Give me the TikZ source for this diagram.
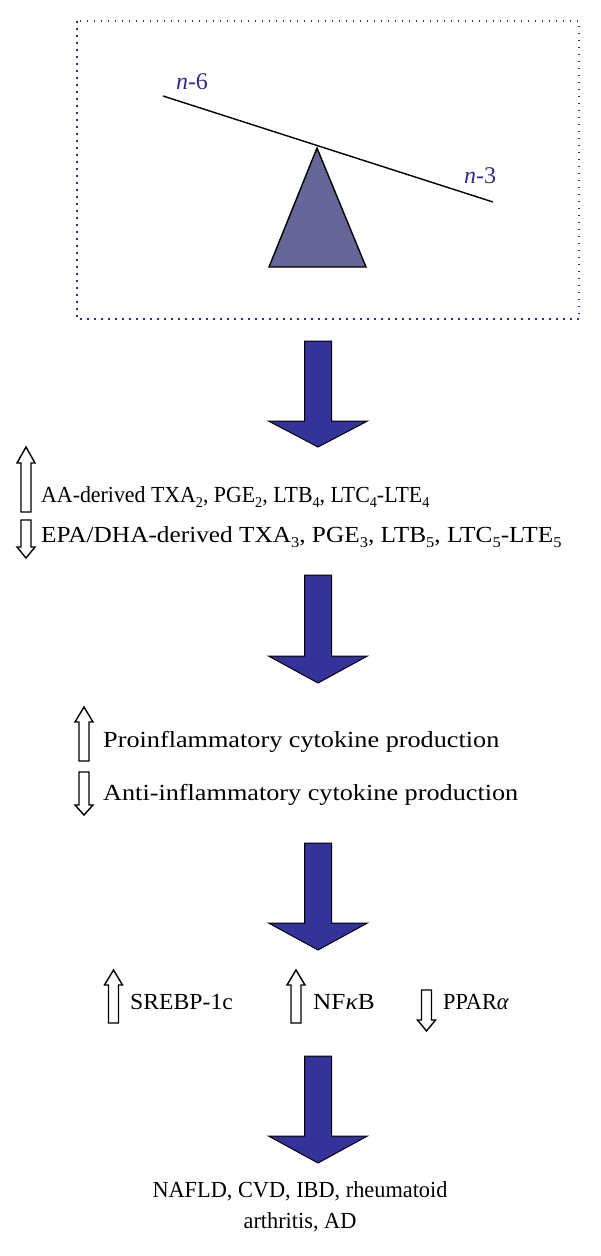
\documentclass[tikz,border=0pt]{standalone}
\usepackage{fontspec}
\usepackage{graphicx}
\setmainfont{Liberation Serif}
\definecolor{arrowblue}{HTML}{333399}
\definecolor{labelblue}{HTML}{2E2E8A}
\definecolor{triblue}{HTML}{666699}
\newcommand{\lowsub}[1]{\raisebox{-0.2em}{\fontsize{15}{15}\selectfont #1}}
\newcommand{\bigdown}[4]{% name, top, headbase, tip
  \draw[bigarrow] (304.5,#2) -- (331.5,#2) -- (331.5,#3) -- (367.5,#3) -- (318,#4) -- (268.5,#3) -- (304.5,#3) -- cycle;
  \coordinate (#1) at (318,#4);}
\newcommand{\hollowup}[5]{% name, cx, tip, headbase, bottom
  \draw[hollow] (#2,#3) -- ({#2+9},#4) -- ({#2+5},#4) -- ({#2+5},#5) -- ({#2-5},#5) -- ({#2-5},#4) -- ({#2-9},#4) -- cycle;
  \coordinate (#1) at (#2,#3);}
\newcommand{\hollowdown}[5]{% name, cx, top, headbase, tip
  \draw[hollow] ({#2-5},#3) -- ({#2+5},#3) -- ({#2+5},#4) -- ({#2+9},#4) -- (#2,#5) -- ({#2-9},#4) -- ({#2-5},#4) -- cycle;
  \coordinate (#1) at (#2,#5);}
\tikzset{
  bigarrow/.style={fill=arrowblue, draw=black, line width=1pt, line join=miter},
  hollow/.style={fill=white, draw=black, line width=1.4pt, line join=miter},
  txt/.style={anchor=west, inner sep=0pt, font=\fontsize{23}{27}\selectfont},
  lbl/.style={inner sep=0pt, text=labelblue, font=\fontsize{24}{28}\selectfont},
}
\begin{document}
\begin{tikzpicture}[x=1pt,y=-1pt]
\useasboundingbox (0,0) rectangle (600,1256);
% dotted frame
\draw[labelblue, line width=1.5pt, dash pattern=on 1.5pt off 5.5pt] (77,21) rectangle (579,319);
% seesaw
\draw[fill=triblue, draw=black, line width=1.4pt, line join=miter] (317,148) -- (366,267) -- (269,267) -- cycle;
\coordinate (beamL) at (163,96);
\coordinate (beamR) at (493,202);
\draw[line width=1.4pt] (beamL) -- (beamR);
\node[lbl] (n6) at (192,82) {\textit{n}-6};
\node[lbl] (n3) at (480,176) {\textit{n}-3};
% big arrows
\bigdown{a1}{341}{421}{447}
\bigdown{a2}{575}{656}{683}
\bigdown{a3}{843}{923}{950}
\bigdown{a4}{1056}{1136}{1163}
% section 2
\hollowup{u1}{26}{447}{463}{512}
\hollowdown{d1}{26}{520}{547}{558}
\node[txt] (t1) at (41,497) {\scalebox{0.95}[1]{AA-derived TXA\lowsub{2}, PGE\lowsub{2}, LTB\lowsub{4}, LTC\lowsub{4}-LTE\lowsub{4}}};
\node[txt] (t2) at (41,537) {\scalebox{1.1}[1]{EPA/DHA-derived TXA\lowsub{3}, PGE\lowsub{3}, LTB\lowsub{5}, LTC\lowsub{5}-LTE\lowsub{5}}};
% section 3
\hollowup{u2}{84}{707}{722}{761}
\hollowdown{d2}{84}{772}{805}{815}
\node[txt] (t3) at (103,742) {\scalebox{1.14}[1]{Proinflammatory cytokine production}};
\node[txt] (t4) at (103,795) {\scalebox{1.14}[1]{Anti-inflammatory cytokine production}};
% section 4
\hollowup{u3}{113.5}{970}{985}{1023}
\node[txt] (t5) at (130,1002) {\scalebox{1.03}[1]{SREBP-1c}};
\hollowup{u4}{296}{970}{985}{1023}
\node[txt] (t6) at (313,1002) {\scalebox{1.1}[1]{NF\textit{κ}B}};
\hollowdown{d3}{426.5}{990}{1020}{1031}
\node[txt] (t7) at (443,1002) {\scalebox{0.97}[1]{PPAR\textit{α}}};
% final
\node[inner sep=0pt, align=center, font=\fontsize{23}{31}\selectfont] (t8) at (300,1207) {\scalebox{0.97}[1]{NAFLD, CVD, IBD, rheumatoid}\\\scalebox{0.97}[1]{arthritis, AD}};
\end{tikzpicture}
\end{document}
